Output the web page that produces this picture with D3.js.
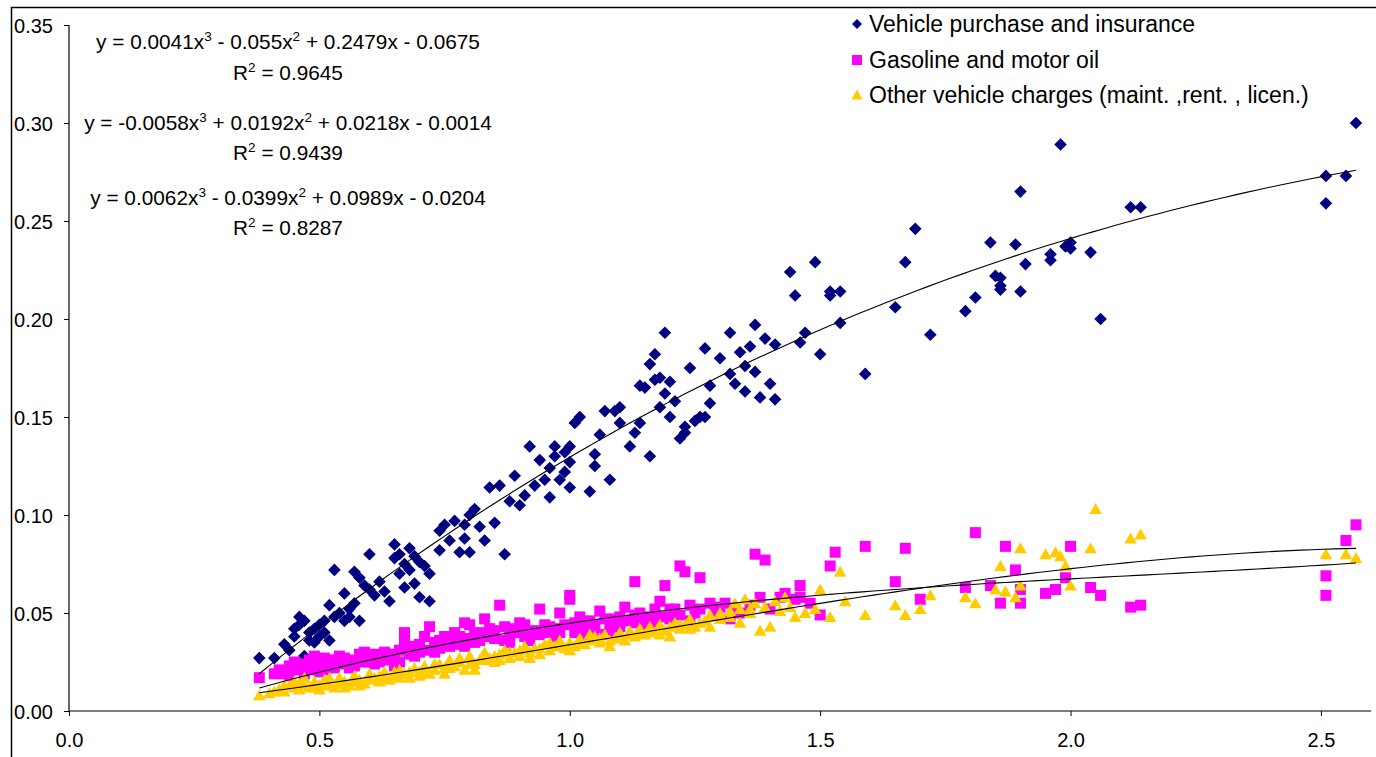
<!DOCTYPE html>
<html><head><meta charset="utf-8">
<script src="https://cdn.jsdelivr.net/npm/d3@7"></script>
<style>body{margin:0;background:#fff;overflow:hidden}text{font-family:"Liberation Sans",Arial,sans-serif;fill:#000}</style>
</head><body><svg id="c" width="1376" height="757"></svg>
<script>
const seriesNames = ["Vehicle purchase and insurance","Gasoline and motor oil","Other vehicle charges (maint. ,rent. , licen.)"];
const seriesColors = ["#000080","#FF00FF","#FFCC00"];
const xTicks = [0,0.5,1.0,1.5,2.0,2.5];
const yTicks = [0,0.05,0.10,0.15,0.20,0.25,0.30,0.35];

const purchase = [
[0.38,0.027],[0.41,0.027],[0.43,0.034],[0.44,0.031],[0.45,0.038],[0.45,0.042],[0.46,0.044],[0.46,0.048],[0.47,0.046],[0.47,0.028],
[0.48,0.036],[0.48,0.040],[0.49,0.035],[0.49,0.042],[0.50,0.038],[0.50,0.044],[0.51,0.046],[0.51,0.040],[0.52,0.054],[0.52,0.036],
[0.53,0.048],[0.53,0.072],[0.54,0.050],[0.55,0.046],[0.55,0.060],[0.56,0.052],[0.56,0.048],[0.57,0.071],[0.57,0.055],[0.58,0.068],
[0.58,0.046],[0.59,0.064],[0.60,0.062],[0.60,0.080],[0.61,0.059],[0.62,0.066],[0.63,0.061],[0.64,0.056],[0.65,0.085],[0.65,0.078],
[0.66,0.070],[0.66,0.080],[0.67,0.063],[0.67,0.075],[0.68,0.083],[0.68,0.072],[0.69,0.079],[0.69,0.065],[0.70,0.076],[0.70,0.058],
[0.71,0.074],[0.72,0.056],[0.72,0.070],[0.74,0.082],[0.74,0.092],[0.75,0.095],[0.76,0.087],[0.77,0.097],[0.78,0.081],[0.79,0.088],
[0.79,0.095],[0.80,0.081],[0.80,0.100],[0.81,0.103],[0.82,0.094],[0.83,0.087],[0.84,0.114],[0.85,0.096],[0.86,0.115],[0.87,0.080],
[0.88,0.107],[0.89,0.120],[0.90,0.105],[0.91,0.110],[0.92,0.135],[0.93,0.115],[0.94,0.128],[0.95,0.118],[0.96,0.124],[0.96,0.109],
[0.97,0.130],[0.97,0.135],[0.98,0.118],[0.99,0.122],[0.99,0.132],[1.00,0.114],[1.00,0.127],[1.00,0.135],[1.01,0.147],[1.02,0.150],
[1.04,0.112],[1.05,0.125],[1.05,0.131],[1.06,0.141],[1.07,0.153],[1.08,0.118],[1.09,0.153],[1.10,0.147],[1.10,0.155],[1.12,0.135],
[1.13,0.142],[1.14,0.147],[1.14,0.166],[1.15,0.165],[1.16,0.130],[1.16,0.177],[1.17,0.182],[1.17,0.169],[1.18,0.170],[1.18,0.155],
[1.19,0.162],[1.19,0.193],[1.20,0.168],[1.20,0.150],[1.21,0.158],[1.22,0.139],[1.23,0.142],[1.23,0.145],[1.24,0.175],[1.25,0.148],
[1.26,0.150],[1.27,0.185],[1.27,0.150],[1.28,0.166],[1.28,0.157],[1.30,0.180],[1.32,0.193],[1.32,0.172],[1.33,0.167],[1.34,0.183],
[1.35,0.176],[1.35,0.163],[1.36,0.186],[1.37,0.197],[1.37,0.173],[1.38,0.160],[1.39,0.190],[1.40,0.167],[1.41,0.159],[1.41,0.187],
[1.44,0.224],[1.45,0.212],[1.46,0.188],[1.47,0.193],[1.49,0.229],[1.50,0.182],[1.52,0.212],[1.52,0.214],[1.54,0.214],[1.54,0.198],
[1.59,0.172],[1.65,0.206],[1.67,0.229],[1.69,0.246],[1.72,0.192],[1.79,0.204],[1.81,0.211],[1.84,0.239],[1.85,0.222],[1.86,0.221],
[1.86,0.217],[1.86,0.215],[1.89,0.238],[1.90,0.265],[1.91,0.228],[1.90,0.214],[1.96,0.230],[1.96,0.233],[1.98,0.289],[1.99,0.237],
[2.00,0.239],[2.00,0.236],[2.04,0.234],[2.06,0.200],[2.12,0.257],[2.14,0.257],[2.51,0.273],[2.51,0.259],[2.55,0.273],[2.57,0.300]
];

const gasoline = [
[0.38,0.017],[0.41,0.019],[0.43,0.019],[0.44,0.023],[0.45,0.021],[0.46,0.024],[0.47,0.022],[0.48,0.026],[0.49,0.024],[0.50,0.025],
[0.50,0.020],[0.51,0.027],[0.52,0.023],[0.53,0.026],[0.54,0.028],[0.55,0.024],[0.56,0.022],[0.57,0.026],[0.58,0.025],[0.59,0.030],
[0.60,0.025],[0.61,0.024],[0.62,0.028],[0.63,0.030],[0.64,0.026],[0.65,0.023],[0.66,0.031],[0.67,0.040],[0.67,0.036],[0.68,0.029],
[0.69,0.033],[0.70,0.030],[0.71,0.038],[0.72,0.043],[0.73,0.035],[0.74,0.032],[0.75,0.038],[0.76,0.036],[0.77,0.040],[0.78,0.034],
[0.79,0.045],[0.80,0.037],[0.80,0.044],[0.81,0.035],[0.82,0.040],[0.83,0.047],[0.84,0.038],[0.85,0.041],[0.86,0.054],[0.87,0.036],
[0.88,0.039],[0.89,0.042],[0.90,0.040],[0.91,0.044],[0.92,0.036],[0.93,0.041],[0.94,0.052],[0.95,0.040],[0.96,0.043],[0.97,0.038],
[0.98,0.050],[0.99,0.044],[1.00,0.059],[1.00,0.057],[1.01,0.040],[1.02,0.048],[1.03,0.043],[1.04,0.046],[1.05,0.040],[1.06,0.051],
[1.07,0.039],[1.08,0.044],[1.09,0.047],[1.10,0.048],[1.11,0.053],[1.13,0.066],[1.13,0.045],[1.14,0.050],[1.15,0.046],[1.16,0.048],
[1.17,0.052],[1.18,0.056],[1.19,0.064],[1.20,0.047],[1.21,0.052],[1.22,0.074],[1.23,0.071],[1.24,0.054],[1.25,0.050],[1.26,0.068],
[1.28,0.055],[1.30,0.053],[1.32,0.047],[1.34,0.050],[1.37,0.080],[1.39,0.077],[1.42,0.058],[1.45,0.057],[1.46,0.064],[1.50,0.049],
[1.52,0.074],[1.53,0.081],[1.59,0.084],[1.65,0.066],[1.67,0.083],[1.70,0.057],[1.79,0.063],[1.81,0.091],[1.84,0.064],[1.86,0.055],
[1.87,0.084],[1.89,0.072],[1.90,0.055],[1.90,0.062],[1.95,0.060],[1.97,0.062],[1.99,0.068],[2.00,0.084],[2.04,0.063],[2.06,0.059],
[2.12,0.053],[2.14,0.054],[2.51,0.069],[2.51,0.059],[2.55,0.087],[2.57,0.095],
[0.42,0.021],[0.44,0.018],[0.45,0.025],[0.47,0.019],[0.48,0.021],[0.49,0.028],[0.50,0.023],[0.51,0.021],[0.52,0.026],[0.53,0.022],
[0.55,0.027],[0.56,0.025],[0.57,0.023],[0.58,0.029],[0.60,0.027],[0.61,0.029],[0.62,0.025],[0.64,0.029],[0.65,0.027],[0.66,0.025],
[0.68,0.032],[0.69,0.028],[0.70,0.034],[0.71,0.031],[0.73,0.030],[0.74,0.036],[0.76,0.033],[0.77,0.035],[0.78,0.038],[0.79,0.033],
[0.81,0.039],[0.82,0.036],[0.84,0.042],[0.85,0.037],[0.87,0.043],[0.88,0.035],[0.90,0.045],[0.91,0.038],[0.92,0.040],[0.94,0.039],
[0.95,0.044],[0.97,0.042],[0.98,0.040],[1.01,0.045],[1.03,0.039],[1.05,0.044],[1.07,0.047],[1.08,0.040],[1.10,0.043],[1.12,0.046],
[1.13,0.049],[1.15,0.042],[1.17,0.045],[1.18,0.048],[1.20,0.052],[1.22,0.049],[1.24,0.046],[1.26,0.052],[1.29,0.050],[1.31,0.055],
[1.33,0.052],[1.36,0.054],[1.38,0.058],[1.40,0.052],[1.43,0.060],[1.46,0.058],[1.48,0.055]
];

const other = [
[0.38,0.008],[0.40,0.009],[0.42,0.011],[0.43,0.010],[0.44,0.013],[0.45,0.012],[0.46,0.014],[0.46,0.011],[0.47,0.017],[0.48,0.012],
[0.49,0.015],[0.50,0.013],[0.50,0.011],[0.51,0.016],[0.52,0.014],[0.53,0.012],[0.54,0.017],[0.55,0.015],[0.56,0.013],[0.57,0.018],
[0.58,0.016],[0.59,0.014],[0.60,0.019],[0.61,0.017],[0.62,0.015],[0.63,0.020],[0.64,0.016],[0.65,0.018],[0.66,0.021],[0.67,0.019],
[0.68,0.017],[0.69,0.022],[0.70,0.020],[0.71,0.023],[0.72,0.019],[0.73,0.021],[0.74,0.024],[0.75,0.022],[0.76,0.026],[0.77,0.023],
[0.78,0.025],[0.79,0.021],[0.80,0.028],[0.81,0.024],[0.82,0.026],[0.83,0.030],[0.84,0.027],[0.85,0.025],[0.86,0.029],[0.87,0.031],
[0.88,0.027],[0.89,0.030],[0.90,0.028],[0.91,0.033],[0.92,0.030],[0.93,0.032],[0.94,0.029],[0.95,0.034],[0.96,0.031],[0.97,0.033],
[0.98,0.036],[0.99,0.032],[1.00,0.035],[1.01,0.033],[1.02,0.037],[1.03,0.034],[1.04,0.036],[1.05,0.038],[1.06,0.035],[1.07,0.039],
[1.08,0.033],[1.09,0.037],[1.10,0.040],[1.11,0.036],[1.12,0.041],[1.13,0.038],[1.14,0.042],[1.15,0.039],[1.16,0.043],[1.17,0.040],
[1.18,0.044],[1.19,0.041],[1.20,0.038],[1.21,0.045],[1.22,0.042],[1.23,0.044],[1.24,0.047],[1.25,0.043],[1.27,0.046],[1.28,0.049],
[1.30,0.047],[1.32,0.051],[1.33,0.055],[1.34,0.045],[1.35,0.057],[1.36,0.052],[1.37,0.055],[1.38,0.041],[1.40,0.043],[1.41,0.056],
[1.43,0.058],[1.45,0.048],[1.47,0.050],[1.49,0.052],[1.50,0.062],[1.52,0.048],[1.54,0.071],[1.55,0.056],[1.59,0.049],[1.65,0.054],
[1.67,0.049],[1.70,0.052],[1.72,0.059],[1.79,0.058],[1.81,0.055],[1.85,0.062],[1.86,0.074],[1.87,0.061],[1.89,0.058],[1.90,0.083],
[1.90,0.064],[1.95,0.080],[1.97,0.081],[1.98,0.079],[1.99,0.074],[2.00,0.064],[2.04,0.083],[2.05,0.103],[2.12,0.088],[2.14,0.090],
[2.51,0.080],[2.55,0.080],[2.57,0.078],
[0.41,0.010],[0.43,0.013],[0.45,0.015],[0.47,0.013],[0.49,0.012],[0.51,0.013],[0.52,0.017],[0.54,0.014],[0.55,0.012],[0.57,0.015],
[0.58,0.013],[0.60,0.016],[0.62,0.018],[0.63,0.017],[0.65,0.020],[0.66,0.017],[0.68,0.020],[0.70,0.018],[0.71,0.021],[0.73,0.024],
[0.75,0.019],[0.76,0.022],[0.78,0.027],[0.80,0.024],[0.81,0.021],[0.83,0.026],[0.85,0.028],[0.86,0.026],[0.88,0.030],[0.90,0.031],
[0.92,0.027],[0.94,0.032],[0.96,0.035],[0.98,0.033],[1.00,0.031],[1.02,0.035],[1.04,0.039],[1.06,0.037],[1.08,0.036],[1.10,0.038],
[1.12,0.039],[1.14,0.040],[1.16,0.041],[1.18,0.039],[1.20,0.043],[1.22,0.044],[1.24,0.042],[1.26,0.045],[1.28,0.043],[1.30,0.050],
[1.32,0.048],[1.34,0.052],[1.36,0.050],[1.39,0.053],[1.42,0.051],[1.44,0.053]
];

// trendline coefficients (cubic, highest power first) as printed on the chart
const fitPurchase = [0.0041,-0.055,0.2479,-0.0675];
const fitUpper = [0.0062,-0.0399,0.0989,-0.0204];
const fitLower = [-0.0058,0.0192,0.0218,-0.0014];
const equationLabels = [
 "y = 0.0041x^3 - 0.055x^2 + 0.2479x - 0.0675","R^2 = 0.9645",
 "y = -0.0058x^3 + 0.0192x^2 + 0.0218x - 0.0014","R^2 = 0.9439",
 "y = 0.0062x^3 - 0.0399x^2 + 0.0989x - 0.0204","R^2 = 0.8287"
];

const svg = d3.select("#c");
const FS = 20;
const x = d3.scaleLinear().domain([0,2.6]).range([69,1371]);
const y = d3.scaleLinear().domain([0,0.35]).range([711,25]);

// outer chart border
svg.append("path").attr("d","M11.5,757V7.5H1376").attr("fill","none").attr("stroke","#000").attr("stroke-width",1.5);

// axes
const yAxis = svg.append("g").attr("transform","translate(69,0)")
  .call(d3.axisLeft(y).tickValues(yTicks).tickFormat(d3.format(".2f")).tickSize(5).tickPadding(11));
const xAxis = svg.append("g").attr("transform","translate(0,711)")
  .call(d3.axisBottom(x).tickValues(xTicks).tickFormat(d3.format(".1f")).tickSize(5).tickPadding(17));
[yAxis,xAxis].forEach(g=>{
  g.select(".domain").attr("stroke","#000").attr("stroke-width",1.2);
  g.selectAll(".tick line").attr("stroke","#000");
  g.selectAll("text").attr("font-size",FS).attr("font-family","Liberation Sans, Arial, sans-serif").attr("fill","#000");
});
yAxis.selectAll("text").attr("dy","0.36em");
xAxis.select(".domain").attr("d","M69,0H1371");
yAxis.select(".domain").attr("d","M0,711V25");

// markers
const shapes = [
  "M0,-6.3L6.3,0L0,6.3L-6.3,0Z",
  "M-5.5,-5.5H5.5V5.5H-5.5Z",
  "M0,-6L6.3,5H-6.3Z"
];
const legendShapes = [
  "M0,-5L5,0L0,5L-5,0Z",
  "M-5,-5H5V5H-5Z",
  "M0,-5.5L5.5,4.5H-5.5Z"
];
[purchase,gasoline,other].forEach((data,i)=>{
  svg.append("g").selectAll("path").data(data).join("path")
    .attr("d",shapes[i]).attr("fill",seriesColors[i])
    .attr("transform",d=>`translate(${x(d[0])},${y(d[1])})`);
});

// trendlines
const poly = (c,v)=>((c[0]*v+c[1])*v+c[2])*v+c[3];
[[fitPurchase,purchase],[fitUpper,gasoline],[fitLower,other]].forEach(([c,data])=>{
  const [x0,x1] = d3.extent(data,d=>d[0]);
  const xs = d3.range(0,101).map(k=>x0+(x1-x0)*k/100);
  svg.append("path").datum(xs)
    .attr("d",d3.line().x(v=>x(v)).y(v=>y(poly(c,v))))
    .attr("fill","none").attr("stroke","#000").attr("stroke-width",1.1);
});

// equation labels
const eqBase = [49,80,130,160,205,235];
equationLabels.forEach((s,i)=>{
  const t = svg.append("text").attr("x",288).attr("y",eqBase[i]).attr("text-anchor","middle").attr("font-size",20.8);
  const parts = s.split(/\^(\d)/);
  let shifted = false;
  parts.forEach((p,k)=>{
    if(k%2===1){
      t.append("tspan").attr("font-size",13.5).attr("dy",-8).text(p);
      shifted = true;
    } else if(p.length){
      const ts = t.append("tspan").text(p);
      if(shifted){ ts.attr("dy",8); shifted=false; }
    }
  });
});

// legend
const legY = [24,60,95];
seriesNames.forEach((n,i)=>{
  svg.append("path").attr("d",legendShapes[i]).attr("fill",seriesColors[i])
    .attr("transform",`translate(857,${legY[i]})`);
  svg.append("text").attr("x",869).attr("y",legY[i]).attr("dy","0.36em").attr("font-size",23).text(n);
});
</script></body></html>
